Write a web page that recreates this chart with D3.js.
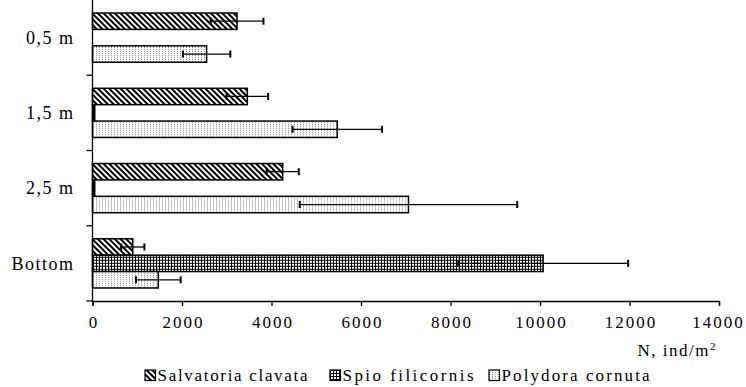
<!DOCTYPE html>
<html>
<head>
<meta charset="utf-8">
<script src="https://cdn.jsdelivr.net/npm/d3@7"></script>
<style>
  body { margin: 0; background: #fff; }
  svg text { font-family: 'Liberation Serif', serif; fill: #000; }
</style>
</head>
<body>
<svg id="chart" width="746" height="387"></svg>
<script>
// data
const categories = ['0,5 m', '1,5 m', '2,5 m', 'Bottom'];
const seriesNames = ['Salvatoria clavata', 'Spio filicornis', 'Polydora cornuta'];
const salvatoria = [3230, 3460, 4250, 900];
const salvatoriaErr = [590, 465, 360, 260];
const spio = [0, 50, 50, 10070];
const spioErr = [0, 0, 0, 1900];
const polydora = [2550, 5470, 7060, 1470];
const polydoraErr = [530, 1000, 2430, 500];
const xTicks = [0, 2000, 4000, 6000, 8000, 10000, 12000, 14000];

const values = [salvatoria, spio, polydora];
const errors = [salvatoriaErr, spioErr, polydoraErr];

const svg = d3.select('#chart');
const plotLeft = 92.5;
const plotRight = 719;
const plotTop = 0;
const plotBottom = 301;
const serif = "'Liberation Serif', serif";

// patterns
const defs = svg.append('defs');
const hatch = defs.append('pattern')
  .attr('id', 'p0')
  .attr('patternUnits', 'userSpaceOnUse')
  .attr('width', 4)
  .attr('height', 4)
  .attr('patternTransform', 'rotate(-45)');
hatch.append('rect').attr('width', 4).attr('height', 4).attr('fill', '#fff');
hatch.append('rect').attr('width', 2).attr('height', 4).attr('fill', '#000');

const grid = defs.append('pattern')
  .attr('id', 'p1')
  .attr('patternUnits', 'userSpaceOnUse')
  .attr('width', 3)
  .attr('height', 3);
grid.append('rect').attr('width', 3).attr('height', 3).attr('fill', '#fff');
grid.append('rect').attr('width', 1).attr('height', 3).attr('fill', '#000');
grid.append('rect').attr('width', 3).attr('height', 1).attr('fill', '#000');

const dots = defs.append('pattern')
  .attr('id', 'p2')
  .attr('patternUnits', 'userSpaceOnUse')
  .attr('width', 3)
  .attr('height', 2);
dots.append('rect').attr('width', 3).attr('height', 2).attr('fill', '#fff');
dots.append('rect').attr('width', 1).attr('height', 1).attr('fill', '#8a8a8a');

// scales
const x = d3.scaleLinear().domain([0, 14000]).range([plotLeft, plotRight]);
const y0 = d3.scaleBand()
  .domain(categories)
  .range([plotTop, plotBottom])
  .paddingInner(0.346)
  .paddingOuter(0.173);
const y1 = d3.scaleBand()
  .domain(d3.range(seriesNames.length))
  .range([0, y0.bandwidth()]);

// bars
const groups = svg.append('g').attr('class', 'bars')
  .selectAll('g')
  .data(categories)
  .join('g')
  .attr('transform', d => `translate(0,${y0(d)})`);

groups.each(function(cat, ci) {
  const g = d3.select(this);
  values.forEach((vals, si) => {
    if (vals[ci] <= 0) return;
    g.append('rect')
      .attr('x', x(0))
      .attr('y', y1(si))
      .attr('width', x(vals[ci]) - x(0))
      .attr('height', y1.bandwidth())
      .attr('fill', `url(#p${si})`)
      .attr('stroke', '#000')
      .attr('stroke-width', 1.5);
  });
  values.forEach((vals, si) => {
    const e = errors[si][ci];
    if (!e) return;
    const cy = y1(si) + y1.bandwidth() / 2;
    const x0 = x(vals[ci] - e);
    const x1 = x(vals[ci] + e);
    g.append('line')
      .attr('x1', x0).attr('x2', x1)
      .attr('y1', cy).attr('y2', cy)
      .attr('stroke', '#000').attr('stroke-width', 1.3);
    [x0, x1].forEach(xx => {
      g.append('line')
        .attr('x1', xx).attr('x2', xx)
        .attr('y1', cy - 3.5).attr('y2', cy + 3.5)
        .attr('stroke', '#000').attr('stroke-width', 2);
    });
  });
});

// y axis with ticks between categories
const yAxis = svg.append('g').attr('class', 'y-axis');
yAxis.append('line')
  .attr('x1', x(0)).attr('x2', x(0))
  .attr('y1', plotTop).attr('y2', plotBottom)
  .attr('stroke', '#000').attr('stroke-width', 1.3);
const bounds = categories.map(c => y0(c) - y0.step() * y0.paddingOuter()).concat([plotBottom]);
yAxis.selectAll('line.tk')
  .data(bounds.slice(1))
  .join('line')
  .attr('class', 'tk')
  .attr('x1', x(0) - 6).attr('x2', x(0))
  .attr('y1', d => d).attr('y2', d => d)
  .attr('stroke', '#000').attr('stroke-width', 1.3);
yAxis.selectAll('text')
  .data(categories)
  .join('text')
  .attr('x', 74.5)
  .attr('y', d => y0(d) + y0.bandwidth() / 2)
  .attr('dy', '0.35em')
  .attr('text-anchor', 'end')
  .attr('font-family', serif)
  .attr('font-size', 18)
  .attr('letter-spacing', '1.5px')
  .text(d => d);

// x axis
const xAxis = svg.append('g')
  .attr('class', 'x-axis')
  .attr('transform', `translate(0,${plotBottom})`)
  .call(d3.axisBottom(x).tickValues(xTicks).tickSize(5).tickPadding(10).tickFormat(d3.format('d')));
xAxis.attr('font-family', serif);
xAxis.select('.domain').attr('stroke-width', 1.3);
xAxis.selectAll('.tick line').attr('stroke-width', 1.3);
xAxis.selectAll('.tick text')
  .attr('font-size', 17)
  .attr('font-family', serif)
  .attr('letter-spacing', '2px')
  .attr('dx', (d, i) => (i === xTicks.length - 1 ? -1 : 1));

// axis title
const title = svg.append('text')
  .attr('x', 717)
  .attr('y', 356)
  .attr('text-anchor', 'end')
  .attr('font-family', serif)
  .attr('font-size', 17)
  .attr('letter-spacing', '1.5px');
title.append('tspan').text('N, ind/m');
title.append('tspan').attr('font-size', 11).attr('dy', -6).text('2');

// legend
const legendX = [145, 330, 489];
const legendTextWidth = [150, 131, 148];
const legend = svg.append('g').attr('class', 'legend')
  .selectAll('g')
  .data(seriesNames)
  .join('g')
  .attr('transform', (d, i) => `translate(${legendX[i]},370)`);
legend.append('rect')
  .attr('width', 10.5).attr('height', 10.5)
  .attr('fill', (d, i) => `url(#p${i})`)
  .attr('stroke', '#000').attr('stroke-width', 1.2);
legend.append('text')
  .attr('x', 12.5)
  .attr('y', 10.5)
  .attr('font-family', serif)
  .attr('font-size', 17)
  .attr('textLength', (d, i) => legendTextWidth[i])
  .attr('lengthAdjust', 'spacing')
  .text(d => d);
</script>
</body>
</html>
